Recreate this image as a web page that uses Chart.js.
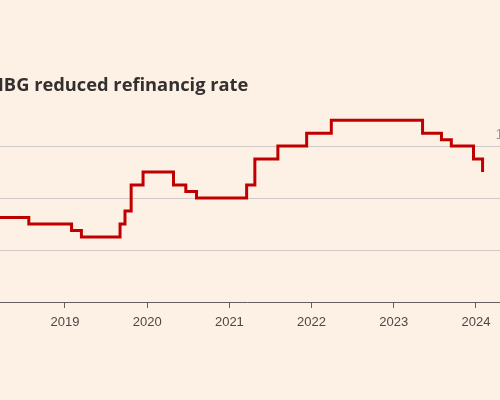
<!DOCTYPE html>
<html><head><meta charset="utf-8">
<script src="https://cdn.jsdelivr.net/npm/chart.js@4.4.1/dist/chart.umd.min.js"></script>
<style>
html,body{margin:0;padding:0;background:#fdf0e5;overflow:hidden;width:500px;height:400px}
#wrap{position:absolute;left:-21.5px;top:0;width:548px;height:400px}
</style></head><body>
<div id="wrap"><canvas id="c" width="548" height="400"></canvas></div>
<script>
const chartTitle = 'NBG reduced refinancig rate';
const changeDates = [2018.08, 2018.56, 2019.08, 2019.20, 2019.67, 2019.73, 2019.805, 2019.95, 2020.32, 2020.47, 2020.60, 2021.21, 2021.31, 2021.59, 2021.94, 2022.24, 2023.35, 2023.58, 2023.70, 2023.97, 2024.08];
const rates = [7.25, 7.0, 6.75, 6.5, 7.0, 7.5, 8.5, 9.0, 8.5, 8.25, 8.0, 8.5, 9.5, 10.0, 10.5, 11.0, 10.5, 10.25, 10.0, 9.5, 9.0];
const yearTicks = [2019, 2020, 2021, 2022, 2023, 2024];
const rateTicks = [4, 6, 8, 10];

const points = changeDates.map((d, i) => ({x: d, y: rates[i]}));

new Chart(document.getElementById('c'), {
  type: 'line',
  data: {
    datasets: [{
      data: points,
      stepped: 'before',
      borderColor: '#c00000',
      borderWidth: 3,
      pointRadius: 0,
      fill: false
    }]
  },
  options: {
    responsive: false,
    animation: false,
    devicePixelRatio: 1,
    layout: {padding: {left: 10, right: 10, top: 0, bottom: 62.4}},
    plugins: {
      legend: {display: false},
      tooltip: {enabled: false},
      title: {
        display: true,
        text: chartTitle,
        align: 'start',
        color: '#33302e',
        font: {family: 'Open Sans', size: 18.3, weight: 'bold', lineHeight: 1.2},
        padding: {top: 74.8, bottom: 2.6}
      }
    },
    scales: {
      x: {
        type: 'linear',
        min: 2018.0757,
        max: 2024.353,
        afterBuildTicks: s => { s.ticks = yearTicks.map(v => ({value: v})); },
        border: {display: true, color: '#66605c', width: 1},
        grid: {drawOnChartArea: false, drawTicks: true, tickLength: 6, color: '#66605c'},
        ticks: {
          color: '#4d4845',
          font: {family: 'Liberation Sans', size: 13},
          padding: 7,
          maxRotation: 0,
          callback: v => String(v)
        }
      },
      y: {
        position: 'right',
        min: 4,
        max: 11.8,
        afterBuildTicks: s => { s.ticks = rateTicks.map(v => ({value: v})); },
        border: {display: false},
        grid: {color: '#cfcac5', drawTicks: false, lineWidth: 1},
        ticks: {
          mirror: true,
          color: '#999999',
          font: {family: 'Liberation Sans', size: 14},
          padding: 6,
          labelOffset: -10.5,
          callback: v => String(v)
        }
      }
    }
  }
});
</script>
</body></html>
